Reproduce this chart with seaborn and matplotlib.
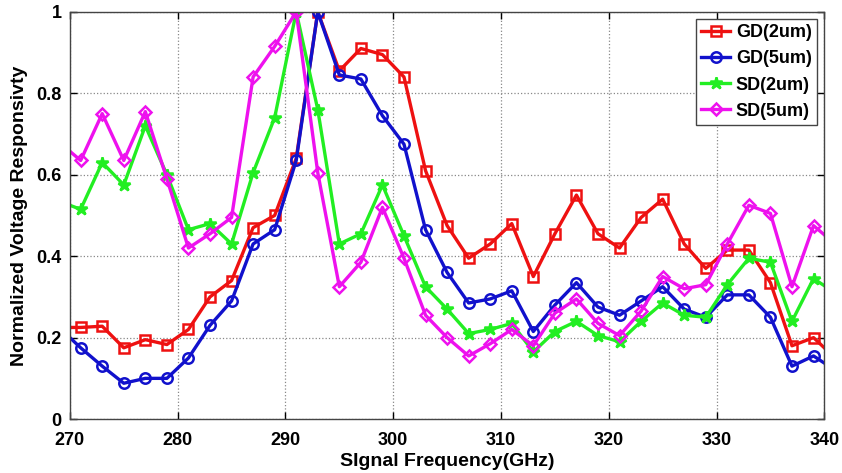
import numpy as np
import pandas as pd
import seaborn as sns
import matplotlib
matplotlib.use("Agg")
import matplotlib.pyplot as plt

freq = [269, 271, 273, 275, 277, 279, 281, 283, 285, 287, 289, 291, 293, 295, 297, 299,
        301, 303, 305, 307, 309, 311, 313, 315, 317, 319, 321, 323, 325, 327, 329,
        331, 333, 335, 337, 339, 341]

gd_2um = [0.225, 0.225, 0.228, 0.175, 0.195, 0.183, 0.22, 0.30, 0.34, 0.47, 0.50, 0.64, 1.0,
          0.855, 0.91, 0.895, 0.84, 0.61, 0.475, 0.395, 0.43, 0.48, 0.35, 0.455, 0.55,
          0.455, 0.42, 0.495, 0.54, 0.43, 0.37, 0.415, 0.415, 0.335, 0.18, 0.20, 0.15]
gd_5um = [0.225, 0.175, 0.13, 0.088, 0.10, 0.10, 0.15, 0.23, 0.29, 0.43, 0.465, 0.635, 1.0,
          0.845, 0.835, 0.745, 0.675, 0.465, 0.36, 0.285, 0.295, 0.315, 0.215, 0.28, 0.335,
          0.275, 0.255, 0.29, 0.325, 0.27, 0.25, 0.305, 0.305, 0.25, 0.13, 0.155, 0.12]
sd_2um = [0.535, 0.515, 0.63, 0.575, 0.72, 0.60, 0.465, 0.48, 0.43, 0.605, 0.74, 1.0, 0.76,
          0.43, 0.455, 0.575, 0.45, 0.325, 0.27, 0.21, 0.22, 0.235, 0.165, 0.215, 0.24,
          0.205, 0.19, 0.24, 0.285, 0.255, 0.25, 0.33, 0.395, 0.385, 0.24, 0.345, 0.31]
sd_5um = [0.68, 0.635, 0.75, 0.635, 0.755, 0.59, 0.42, 0.455, 0.495, 0.84, 0.915, 1.0, 0.605,
          0.325, 0.385, 0.52, 0.395, 0.255, 0.20, 0.155, 0.185, 0.22, 0.18, 0.26, 0.295,
          0.235, 0.205, 0.265, 0.35, 0.32, 0.33, 0.43, 0.525, 0.505, 0.325, 0.475, 0.43]

labels = ["GD(2um)", "GD(5um)", "SD(2um)", "SD(5um)"]
series = [gd_2um, gd_5um, sd_2um, sd_5um]
colors = ["#ee1111", "#1111cc", "#22ee22", "#ee11ee"]
markers = ["s", "o", "*", "D"]

plt.rcParams["font.family"] = ["Liberation Sans", "DejaVu Sans"]
plt.rcParams["font.weight"] = "bold"

fig, ax = plt.subplots(figsize=(8.42, 4.73), dpi=100)
fig.subplots_adjust(left=0.083, right=0.979, top=0.975, bottom=0.114)

for lab, vals, c, m in zip(labels, series, colors, markers):
    filled = m == "*"
    sns.lineplot(x=freq, y=vals, ax=ax, color=c, label=lab, linewidth=2.4,
                 marker=m, markersize=9 if m == "*" else (6.5 if m == "D" else 7.5),
                 markerfacecolor=c if filled else "none",
                 markeredgecolor=c, markeredgewidth=1.8)

ax.set_xlim(270, 340)
ax.set_ylim(0, 1)
ax.set_xticks(np.arange(270, 341, 10))
ax.set_yticks([0, 0.2, 0.4, 0.6, 0.8, 1])
ax.set_yticklabels(["0", "0.2", "0.4", "0.6", "0.8", "1"])
ax.grid(True, linestyle=":", color="#888888", linewidth=0.9)
ax.tick_params(direction="in", top=True, right=True, labelsize=13, length=5, width=1)
ax.tick_params(axis="x", pad=9)
ax.tick_params(axis="y", pad=6)
for s in ax.spines.values():
    s.set_color("#444444")
    s.set_linewidth(1)
ax.set_xlabel("SIgnal Frequency(GHz)", fontsize=14, fontweight="bold", labelpad=3)
ax.set_ylabel("Normalized Voltage Responsivty", fontsize=14, fontweight="bold", labelpad=6)

leg = ax.legend(loc="upper right", fontsize=13, fancybox=False, framealpha=1,
                edgecolor="#444444", handlelength=1.6, handletextpad=0.3,
                borderpad=0.3, labelspacing=0.5, borderaxespad=0.4)
leg.get_frame().set_linewidth(1)

fig.savefig("out.png", dpi=100)
